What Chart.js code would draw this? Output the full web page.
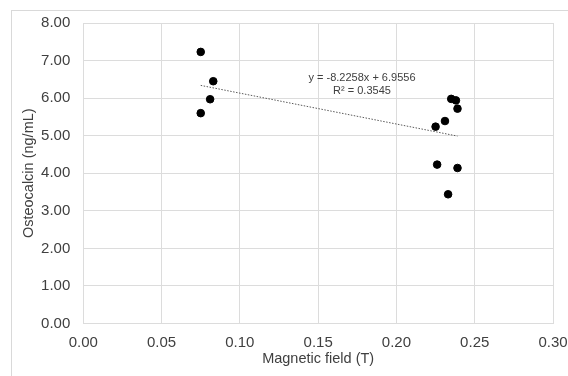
<!DOCTYPE html>
<html>
<head>
<meta charset="utf-8">
<script src="https://cdn.jsdelivr.net/npm/chart.js@4/dist/chart.umd.min.js"></script>
<style>
  body { margin: 0; background: #fff; }
  #wrap { position: relative; width: 568px; height: 376px; overflow: hidden; }
  #marco { position: absolute; left: 11px; top: 10px; width: 600px; height: 400px;
           border-left: 1px solid #d9d9d9; border-top: 1px solid #d9d9d9; }
  canvas { position: absolute; left: 0; top: 0; }
</style>
</head>
<body>
<div id="wrap">
  <div id="marco"></div>
  <canvas id="grafico" width="568" height="376"></canvas>
</div>
<script>
// valores
const campoMagnetico = [0.075, 0.083, 0.081, 0.075, 0.235, 0.238, 0.239, 0.231, 0.225, 0.226, 0.239, 0.233];
const osteocalcina = [7.23, 6.45, 5.97, 5.60, 5.98, 5.94, 5.72, 5.39, 5.24, 4.23, 4.14, 3.44];
const pendiente = -8.2258;
const intercepto = 6.9556;
const r2 = 0.3545;
const ticksX = [0, 0.05, 0.10, 0.15, 0.20, 0.25, 0.30];
const ticksY = [0, 1, 2, 3, 4, 5, 6, 7, 8];

const puntos = campoMagnetico.map((x, i) => ({ x: x, y: osteocalcina[i] }));
const xMin = Math.min(...campoMagnetico);
const xMax = Math.max(...campoMagnetico);
const tendencia = [
  { x: xMin, y: pendiente * xMin + intercepto },
  { x: xMax, y: pendiente * xMax + intercepto }
];

const fuente = "'Liberation Sans', Arial, sans-serif";
const gris = '#404040';

const etiquetaEcuacion = {
  id: 'etiquetaEcuacion',
  afterDatasetsDraw(chart) {
    const { ctx, scales } = chart;
    const px = scales.x.getPixelForValue(0.178);
    ctx.save();
    ctx.fillStyle = gris;
    ctx.font = '11px ' + fuente;
    ctx.textAlign = 'center';
    ctx.textBaseline = 'middle';
    ctx.fillText('y = ' + pendiente + 'x + ' + intercepto, px, scales.y.getPixelForValue(6.53));
    ctx.fillText('R² = ' + r2, px, scales.y.getPixelForValue(6.18));
    ctx.restore();
  }
};

const ctx = document.getElementById('grafico').getContext('2d');
new Chart(ctx, {
  type: 'scatter',
  data: {
    datasets: [{
      label: 'Osteocalcin',
      data: puntos,
      backgroundColor: '#000',
      borderColor: '#000',
      pointRadius: 3.8,
      pointHoverRadius: 3.8,
      order: 1
    }, {
      label: 'Tendencia',
      type: 'line',
      data: tendencia,
      borderColor: '#595959',
      borderWidth: 1,
      borderDash: [1.5, 1.5],
      pointRadius: 0,
      fill: false,
      order: 2
    }]
  },
  options: {
    responsive: false,
    animation: false,
    layout: { padding: { top: 23, right: 15, left: 0, bottom: 0 } },
    plugins: { legend: { display: false }, tooltip: { enabled: false } },
    scales: {
      x: {
        type: 'linear',
        min: 0,
        max: 0.3,
        afterBuildTicks: s => { s.ticks = ticksX.map(v => ({ value: v })); },
        afterFit: s => { s.height = 52.5; s.paddingLeft = 0; s.paddingRight = 0; },
        grid: { color: '#dcdcdc', drawTicks: false },
        border: { color: '#dcdcdc' },
        ticks: {
          padding: 10,
          color: gris,
          font: { family: fuente, size: 15 },
          callback: v => Number(v).toFixed(2)
        },
        title: {
          display: true,
          text: 'Magnetic field (T)',
          color: gris,
          font: { family: fuente, size: 14.5 },
          padding: { top: 0, bottom: 8 }
        }
      },
      y: {
        min: 0,
        max: 8,
        afterBuildTicks: s => { s.ticks = ticksY.map(v => ({ value: v })); },
        afterFit: s => { s.width = 83.3; s.paddingTop = 0; s.paddingBottom = 0; },
        grid: { color: '#dcdcdc', drawTicks: false },
        border: { color: '#dcdcdc' },
        ticks: {
          padding: 13,
          color: gris,
          font: { family: fuente, size: 15 },
          callback: v => Number(v).toFixed(2)
        },
        title: {
          display: true,
          text: 'Osteocalcin (ng/mL)',
          color: gris,
          font: { family: fuente, size: 14.5 },
          padding: { top: 20, bottom: 0 }
        }
      }
    }
  },
  plugins: [etiquetaEcuacion]
});
</script>
</body>
</html>
